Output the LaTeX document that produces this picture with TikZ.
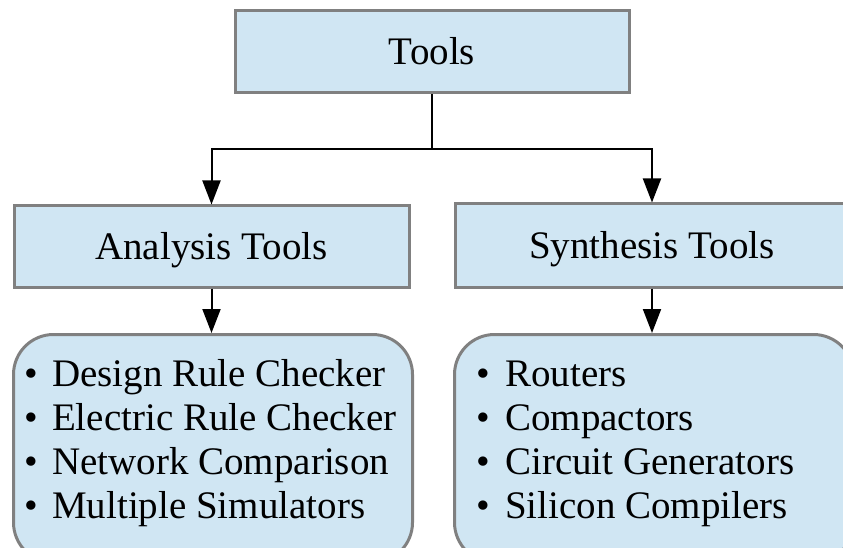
\documentclass[tikz,border=0pt]{standalone}
\usepackage{fontspec}
\setmainfont{Liberation Serif}
\usetikzlibrary{arrows.meta}
\definecolor{boxfill}{RGB}{208,230,243}
\definecolor{boxline}{RGB}{128,128,128}
\begin{document}
\begin{tikzpicture}[x=1pt,y=-1pt,
  font=\fontsize{39}{44}\selectfont,
  headbox/.style={draw=boxline, line width=3pt, fill=boxfill, rectangle,
    inner sep=0pt, text height=26pt, text depth=0pt},
  listbox/.style={draw=boxline, line width=3pt, fill=boxfill,
    rounded corners=40pt, inner sep=0pt, minimum width=399pt, minimum height=228pt},
  item/.style={anchor=base west, inner sep=0pt},
  arr/.style={line width=2pt, -{Triangle[width=18pt,length=24pt]}}]
\useasboundingbox (0,0) rectangle (843,548);

% headings
\node[headbox, minimum width=394pt, minimum height=82pt] (tools) at (432,52) {Tools};
\node[headbox, minimum width=395pt, minimum height=81pt] (ana) at (211.5,246.5) {Analysis Tools};
\node[headbox, minimum width=394pt, minimum height=83pt] (syn) at (652,245.5) {Synthesis Tools};

% tool lists
\node[listbox, anchor=north west] (alist) at (12,333) {};
\node[listbox, anchor=north west] (slist) at (453,333) {};

\foreach \t [count=\i] in {Design Rule Checker, Electric Rule Checker,
    Network Comparison, Multiple Simulators}
  \node[item] (a\i) at (24,386.7+44*\i-44) {\makebox[28pt][l]{•}\t};
\foreach \t [count=\i] in {Routers, Compactors, Circuit Generators, Silicon Compilers}
  \node[item] (s\i) at (476,386.7+44*\i-44) {\makebox[29pt][l]{•}\t};

% connectors
\coordinate (split) at (432,149);
\draw[line width=2pt] (tools.south) -- (split);
\draw[arr] (split) -| (ana.north);
\draw[arr] (split) -| (syn.north);
\draw[arr] (ana.south) -- (ana.south |- alist.north);
\draw[arr] (syn.south) -- (syn.south |- slist.north);
\end{tikzpicture}
\end{document}
